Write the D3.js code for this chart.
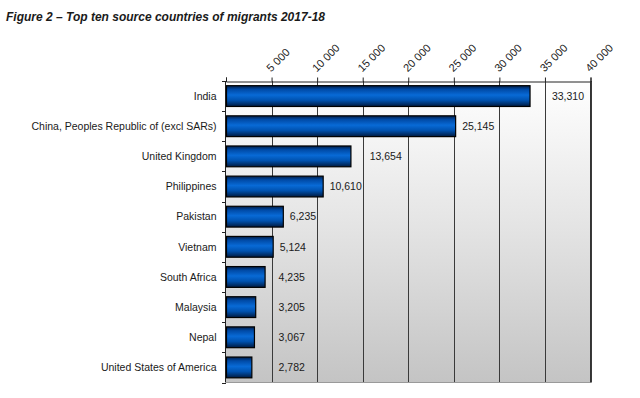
<!DOCTYPE html>
<html>
<head>
<meta charset="utf-8">
<script src="https://cdn.jsdelivr.net/npm/d3@7"></script>
<style>
  body { margin: 0; background: #fff; }
  svg { display: block; font-family: "Liberation Sans", Arial, sans-serif; }
</style>
</head>
<body>
<svg id="chart" width="640" height="398"></svg>
<script>
const title = "Figure 2 \u2013 Top ten source countries of migrants 2017-18";
const countries = ["India", "China, Peoples Republic of (excl SARs)", "United Kingdom", "Philippines",
  "Pakistan", "Vietnam", "South Africa", "Malaysia", "Nepal", "United States of America"];
const migrants = [33310, 25145, 13654, 10610, 6235, 5124, 4235, 3205, 3067, 2782];
const tickValues = [5000, 10000, 15000, 20000, 25000, 30000, 35000, 40000];
const tickLabels = ["5 000", "10 000", "15 000", "20 000", "25 000", "30 000", "35 000", "40 000"];

const svg = d3.select("#chart");
const m = { left: 226, right: 590.5, top: 81, bottom: 382.5 };

const x = d3.scaleLinear().domain([0, 40000]).range([m.left, m.right]);
const y = d3.scaleBand().domain(countries).range([m.top, m.bottom]).paddingInner(0.31).paddingOuter(0.155);

const defs = svg.append("defs");
const bg = defs.append("linearGradient").attr("id", "bg").attr("x1", 0).attr("y1", 0).attr("x2", 0).attr("y2", 1);
bg.append("stop").attr("offset", "0%").attr("stop-color", "#ffffff");
bg.append("stop").attr("offset", "45%").attr("stop-color", "#e6e6e6");
bg.append("stop").attr("offset", "100%").attr("stop-color", "#c4c4c4");

const bar = defs.append("linearGradient").attr("id", "bar").attr("x1", 0).attr("y1", 0).attr("x2", 0).attr("y2", 1);
[["0%", "#001c44"], ["18%", "#004aa6"], ["45%", "#086ad6"], ["70%", "#0052b0"], ["100%", "#001a40"]]
  .forEach(([o, c]) => bar.append("stop").attr("offset", o).attr("stop-color", c));

// title
svg.append("text").attr("x", 6).attr("y", 21)
  .attr("font-size", 12).attr("font-weight", "bold").attr("font-style", "italic")
  .attr("fill", "#1a1a1a").text(title);

// plot background
svg.append("rect").attr("x", m.left).attr("y", m.top)
  .attr("width", m.right - m.left).attr("height", m.bottom - m.top)
  .attr("fill", "url(#bg)");

// gridlines
svg.append("g").selectAll("line").data(tickValues).join("line")
  .attr("x1", d => Math.round(x(d)) + 0.5).attr("x2", d => Math.round(x(d)) + 0.5)
  .attr("y1", m.top).attr("y2", m.bottom)
  .attr("stroke", "#3a3a3a").attr("stroke-width", 1);

// bottom edge
svg.append("line").attr("x1", m.left).attr("x2", m.right).attr("y1", m.bottom).attr("y2", m.bottom)
  .attr("stroke", "#9a9a9a");

// top axis
const xAxis = d3.axisTop(x).tickValues([0].concat(tickValues)).tickSize(4).tickFormat("");
const gx = svg.append("g").attr("transform", `translate(0,${m.top + 0.5})`).call(xAxis);
gx.select(".domain").attr("stroke", "#222");
gx.selectAll(".tick line").attr("stroke", "#222");
gx.selectAll(".tick").filter(d => d > 0).append("text")
  .attr("transform", "translate(-1,-9) rotate(-45)")
  .attr("text-anchor", "start").attr("fill", "#222").attr("font-size", 11)
  .attr("x", 0).attr("y", 0)
  .text(d => tickLabels[tickValues.indexOf(d)]);

// left axis
const yTicks = d3.range(countries.length + 1).map(i => m.top + i * (m.bottom - m.top) / countries.length);
svg.append("line").attr("x1", m.left - 0.5).attr("x2", m.left - 0.5).attr("y1", m.top).attr("y2", m.bottom)
  .attr("stroke", "#222");
svg.append("g").selectAll("line").data(yTicks).join("line")
  .attr("x1", m.left - 4).attr("x2", m.left).attr("y1", d => Math.round(d) + 0.5).attr("y2", d => Math.round(d) + 0.5)
  .attr("stroke", "#222");
svg.append("g").selectAll("text").data(countries).join("text")
  .attr("x", 216.5).attr("y", d => y(d) + y.bandwidth() / 2)
  .attr("dy", "0.35em").attr("text-anchor", "end").attr("font-size", 10.5).attr("fill", "#1a1a1a")
  .text(d => d);

// right border
svg.append("line").attr("x1", m.right).attr("x2", m.right).attr("y1", m.top).attr("y2", m.bottom)
  .attr("stroke", "#333");

// bars
svg.append("g").selectAll("rect").data(countries).join("rect")
  .attr("x", x(0) + 0.5).attr("y", d => y(d))
  .attr("width", (d, i) => x(migrants[i]) - x(0))
  .attr("height", y.bandwidth())
  .attr("fill", "url(#bar)").attr("stroke", "#000").attr("stroke-width", 1.2);

// value labels (shifted past a gridline if they would collide)
const fmt = d3.format(",");
const labels = svg.append("g").selectAll("text").data(countries).join("text")
  .attr("y", d => y(d) + y.bandwidth() / 2).attr("dy", "0.35em")
  .attr("font-size", 10.5).attr("fill", "#1a1a1a")
  .text((d, i) => fmt(migrants[i]));
labels.each(function(d, i) {
  const w = this.getComputedTextLength();
  let lx = x(migrants[i]) + 7;
  const hit = tickValues.map(x).find(g => g > lx - 1 && g < lx + w - 3);
  if (hit !== undefined) lx = hit + 7;
  d3.select(this).attr("x", lx);
});
</script>
</body>
</html>
